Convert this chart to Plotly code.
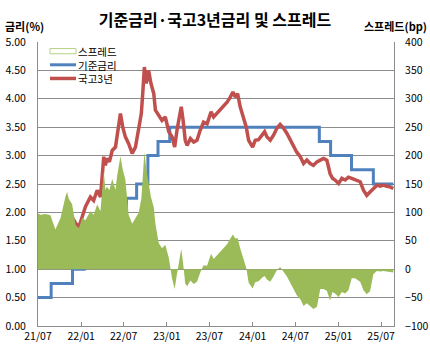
import plotly.graph_objects as go

dates = ["2021-07-01","2021-07-12","2021-08-02","2021-08-23","2021-09-13","2021-10-05","2021-10-26","2021-11-02","2021-11-09","2021-11-23","2021-12-08","2021-12-22",
         "2022-01-05","2022-01-19","2022-02-09","2022-02-23","2022-03-10","2022-03-24","2022-03-31","2022-04-07","2022-04-14","2022-04-21","2022-05-01","2022-05-13","2022-05-27","2022-06-03","2022-06-17","2022-06-27","2022-07-08","2022-07-22","2022-08-06","2022-08-20","2022-09-03","2022-09-14","2022-09-20","2022-09-27","2022-10-05","2022-10-15","2022-10-25","2022-11-06","2022-11-13","2022-11-27","2022-12-11","2022-12-25",
         "2023-01-09","2023-01-23","2023-02-03","2023-02-13","2023-02-24","2023-03-03","2023-03-11","2023-03-20","2023-03-28","2023-04-11","2023-04-25","2023-05-09","2023-05-23","2023-06-06","2023-06-21","2023-07-08","2023-07-19","2023-08-02","2023-08-16","2023-08-30","2023-09-14","2023-09-28","2023-10-09","2023-10-19","2023-10-29","2023-11-09","2023-11-23","2023-12-05","2023-12-15","2023-12-22",
         "2024-01-01","2024-01-12","2024-01-26","2024-02-10","2024-02-21","2024-03-02","2024-03-16","2024-03-30","2024-04-13","2024-04-27","2024-05-12","2024-05-26","2024-06-09","2024-06-23","2024-07-07","2024-07-22","2024-08-05","2024-08-19","2024-09-02","2024-09-16","2024-10-01","2024-10-15","2024-10-29","2024-11-12","2024-11-26","2024-12-06","2024-12-17",
         "2025-01-01","2025-01-15","2025-01-29","2025-02-12","2025-02-26","2025-03-12","2025-04-03","2025-04-17","2025-05-01","2025-05-15","2025-05-29","2025-06-13","2025-06-27","2025-07-11","2025-07-25","2025-08-08","2025-08-22"]

ktb3y = [1.39,1.37,1.37,1.36,1.48,1.65,2.00,2.10,1.98,1.92,1.81,1.74,
         1.92,2.10,2.27,2.21,2.39,2.27,2.62,2.98,2.83,2.95,2.89,3.09,3.15,3.39,3.74,3.50,3.33,3.21,3.04,3.15,3.50,3.74,4.09,4.56,4.27,4.50,4.27,4.09,3.80,3.71,3.62,3.68,
         3.42,3.33,3.15,3.45,3.68,3.86,3.62,3.27,3.18,3.30,3.24,3.27,3.45,3.59,3.56,3.77,3.68,3.74,3.80,3.86,3.94,4.03,4.12,4.03,4.09,3.86,3.68,3.50,3.27,3.21,
         3.15,3.27,3.28,3.36,3.42,3.33,3.27,3.36,3.48,3.55,3.48,3.39,3.27,3.15,3.06,2.98,2.86,2.92,2.86,2.83,2.89,2.92,2.95,2.92,2.68,2.60,2.57,
         2.51,2.60,2.57,2.62,2.60,2.57,2.54,2.39,2.30,2.36,2.42,2.48,2.46,2.48,2.46,2.45,2.42]

spread_bp = [98,96,97,95,70,90,128,136,124,115,78,72,
             90,86,102,96,114,102,137,172,140,145,139,159,140,164,199,175,158,96,80,90,100,124,159,206,177,150,127,109,80,46,37,43,
             20,-17,-35,-8,20,36,10,-25,-30,-20,-26,-22,-6,7,6,27,18,24,30,36,44,54,61,54,55,37,20,2,-24,-29,
             -34,-23,-21,-15,-12,-18,-22,-13,-2,4,-4,-13,-24,-36,-46,-53,-65,-60,-65,-70,-66,-35,-35,-38,-55,-40,-43,
             -49,-40,-43,-37,-16,-16,-22,-37,-44,-39,-9,-3,-4,-3,-4,-5,-6]

base_dates = ["2021-07-01","2021-08-26","2021-11-25","2022-01-14","2022-04-14","2022-05-26","2022-07-13","2022-08-25",
              "2022-10-12","2022-11-24","2023-01-13","2024-10-11","2024-11-28","2025-02-25","2025-05-29","2025-08-22"]
base_rate = [0.50,0.75,1.00,1.25,1.50,1.75,2.25,2.50,3.00,3.25,3.50,3.25,3.00,2.75,2.50,2.50]

tick_dates = ["2021-07-01","2022-01-01","2022-07-01","2023-01-01","2023-07-01","2024-01-01","2024-07-01","2025-01-01","2025-07-01"]
tick_labels = ["21/07","22/01","22/07","23/01","23/07","24/01","24/07","25/01","25/07"]

series_names = ["스프레드", "기준금리", "국고3년"]
series_colors = ["#9BBB59", "#4F81BD", "#C0504D"]

FONT = "Noto Sans CJK KR"
GRID = "#8c8c8c"

fig = go.Figure()
fig.add_trace(go.Scatter(x=dates, y=spread_bp, name=series_names[0], yaxis="y2", mode="lines",
                         line=dict(width=0, color=series_colors[0]), fill="tozeroy", fillcolor=series_colors[0]))
fig.add_trace(go.Scatter(x=base_dates, y=base_rate, name=series_names[1], mode="lines",
                         line=dict(width=3, color=series_colors[1], shape="hv")))
fig.add_trace(go.Scatter(x=dates, y=ktb3y, name=series_names[2], mode="lines",
                         line=dict(width=3.5, color=series_colors[2])))

# plot area spans page x 38-394, y 42-326
W, H = 430, 356
PL, PR, PT, PB = 38, 36, 42, 30
PW, PH = W - PL - PR, H - PT - PB

def px(xp):  # page px -> paper x
    return (xp - PL) / PW

def py(yp):  # page px -> paper y
    return (H - PB - yp) / PH

# compact legend drawn as shapes + one multi-line text (row pitch = 1.3 * font size)
LEG_FS = 10.5
pitch = 1.3 * LEG_FS
mid = 64.8
rows = [mid - pitch, mid, mid + pitch]
shapes = [
    dict(type="rect", xref="paper", yref="paper", x0=px(50), x1=px(76), y0=py(rows[0] - 2.6), y1=py(rows[0] + 2.6),
         fillcolor="white", line=dict(color="#b9cf86", width=1)),
    dict(type="line", xref="paper", yref="paper", x0=px(50), x1=px(76), y0=py(rows[1]), y1=py(rows[1]),
         line=dict(color=series_colors[1], width=3)),
    dict(type="line", xref="paper", yref="paper", x0=px(50), x1=px(76), y0=py(rows[2]), y1=py(rows[2]),
         line=dict(color=series_colors[2], width=3.5)),
]
annotations = [
    dict(text="<br>".join(series_names), xref="paper", yref="paper", x=px(77), y=py(mid + 0.5),
         xanchor="left", yanchor="middle", align="left", showarrow=False, borderpad=0,
         font=dict(size=LEG_FS, family=FONT, color="#000")),
    dict(text="<b>금리(%)</b>", xref="paper", yref="paper", x=px(4), y=py(26),
         xanchor="left", yanchor="middle", showarrow=False, borderpad=0, font=dict(size=11, family=FONT, color="#000")),
    dict(text="<b>스프레드(bp)</b>", xref="paper", yref="paper", x=px(428), y=py(26),
         xanchor="right", yanchor="middle", showarrow=False, borderpad=0, font=dict(size=11, family=FONT, color="#000")),
]

fig.update_layout(
    width=W, height=H,
    margin=dict(l=PL, r=PR, t=PT, b=PB, autoexpand=False),
    paper_bgcolor="white", plot_bgcolor="white",
    font=dict(family=FONT, size=10.5, color="#000"),
    title=dict(text="<b>기준금리·국고3년금리 및 스프레드</b>", x=0.5, xanchor="center", xref="container",
               y=1 - 20 / H, yanchor="middle", font=dict(size=16, family=FONT, color="#000")),
    showlegend=False,
    hovermode=False,
    xaxis=dict(type="date", range=["2021-07-01", "2025-08-25"], tickvals=tick_dates, ticktext=tick_labels,
               ticks="inside", ticklen=4, tickcolor=GRID, showline=True, linecolor=GRID, linewidth=1,
               showgrid=False, zeroline=False, tickfont=dict(size=10.5), automargin=False),
    yaxis=dict(range=[0, 5], dtick=0.5, tickformat=".2f", showgrid=True, gridcolor=GRID, gridwidth=1,
               showline=True, linecolor=GRID, zeroline=False, ticks="", ticklabelstandoff=9,
               tickfont=dict(size=10.5), automargin=False),
    yaxis2=dict(range=[-100, 400], dtick=50, overlaying="y", side="right", showgrid=False,
                showline=True, linecolor=GRID, zeroline=False, ticks="", ticklabelstandoff=8,
                tickfont=dict(size=10.5), automargin=False),
    shapes=shapes,
    annotations=annotations,
)

# remove the browser's default 8px body margin so the 430x356 figure fills the window exactly
fig.write_html("out.html", config={"displayModeBar": False, "staticPlot": True},
               post_script="document.body.style.margin='0';document.body.style.overflow='hidden';")
